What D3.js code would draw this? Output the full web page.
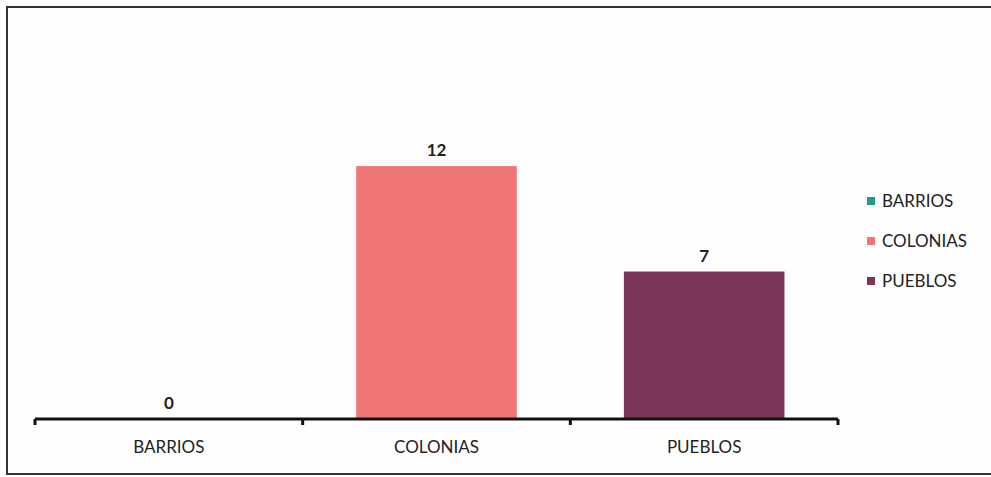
<!DOCTYPE html>
<html><head><meta charset="utf-8">
<script src="https://cdn.jsdelivr.net/npm/d3@7"></script>
<style>body{margin:0;background:#fff}svg{display:block}</style>
</head><body>
<script>
const categories = ["BARRIOS", "COLONIAS", "PUEBLOS"];
const values = [0, 12, 7];
const colors = ["#1f9e89", "#f07575", "#7b3558"];

const W = 991, H = 477;
const svg = d3.select("body").append("svg").attr("width", W).attr("height", H);
const font = "Lato, 'Open Sans', sans-serif";

// frame
svg.append("rect").attr("x", 7).attr("y", 7).attr("width", W).attr("height", 467)
  .attr("fill", "#fefefe").attr("stroke", "#333").attr("stroke-width", 2);

const x = d3.scaleBand().domain(categories).range([35, 838]).padding(0);
const y = d3.scaleLinear().domain([0, 14]).range([419, 124]);
const bw = x.bandwidth();

svg.selectAll("rect.bar").data(categories).join("rect").attr("class", "bar")
  .attr("x", d => x(d) + bw * 0.2)
  .attr("width", bw * 0.6)
  .attr("y", (d, i) => y(values[i]))
  .attr("height", (d, i) => y(0) - y(values[i]))
  .attr("fill", (d, i) => colors[i]);

svg.selectAll("text.val").data(categories).join("text").attr("class", "val")
  .attr("x", d => x(d) + bw / 2)
  .attr("y", (d, i) => y(values[i]) - 10)
  .attr("text-anchor", "middle")
  .attr("font-family", font).attr("font-weight", "bold").attr("font-size", 17)
  .attr("fill", "#222")
  .text((d, i) => values[i]);

// axis
const axis = svg.append("g").attr("transform", "translate(0,419)");
axis.append("line").attr("x1", 35).attr("x2", 838).attr("stroke", "#111").attr("stroke-width", 3);
const tickPos = categories.map(c => x(c)).concat([x(categories[categories.length - 1]) + bw]);
axis.selectAll("line.tick").data(tickPos).join("line").attr("class", "tick")
  .attr("x1", d => d).attr("x2", d => d).attr("y1", 0).attr("y2", 6)
  .attr("stroke", "#111").attr("stroke-width", 3);
axis.selectAll("text").data(categories).join("text")
  .attr("x", d => x(d) + bw / 2).attr("y", 34)
  .attr("text-anchor", "middle").attr("font-family", font).attr("font-size", 17)
  .attr("fill", "#222").text(d => d);

// legend
const lg = svg.append("g");
categories.forEach((c, i) => {
  const ly = 201 + i * 40;
  lg.append("rect").attr("x", 867).attr("y", ly - 4).attr("width", 8).attr("height", 8).attr("fill", colors[i]);
  lg.append("text").attr("x", 882).attr("y", ly + 6).attr("font-family", font).attr("font-size", 17)
    .attr("fill", "#222").text(c);
});
</script>
</body></html>
